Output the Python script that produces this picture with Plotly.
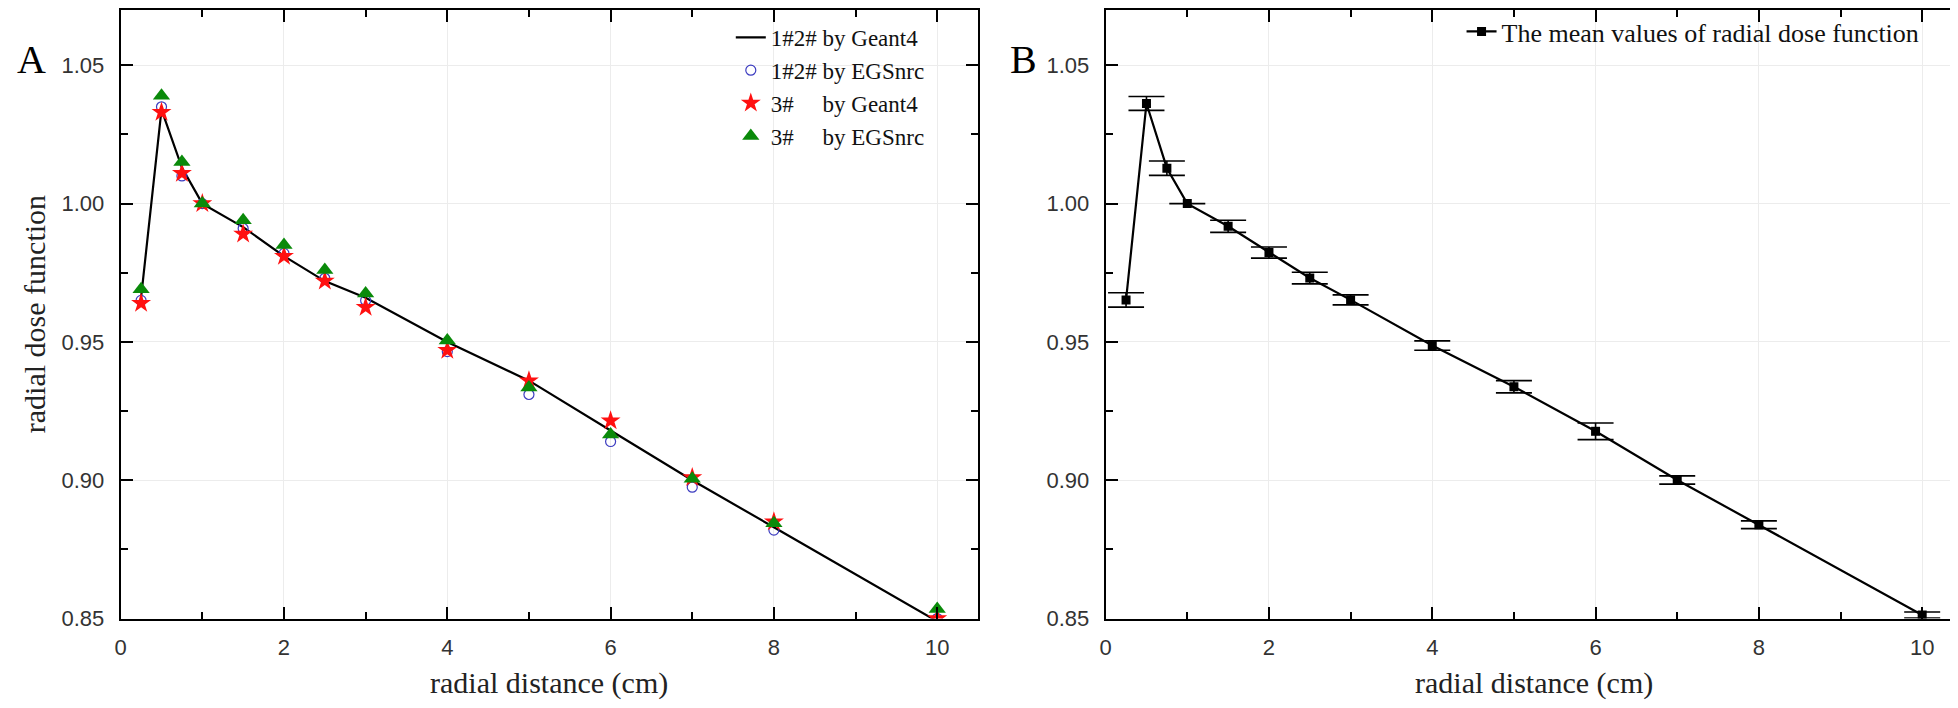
import plotly.graph_objects as go

# ---------------- data ----------------
radial_distance = [0.25, 0.5, 0.75, 1, 1.5, 2, 2.5, 3, 4, 5, 6, 7, 8, 10]

g4_1_2 = [0.966, 1.034, 1.013, 1.000, 0.9915, 0.981, 0.972, 0.966, 0.950, 0.936, 0.918, 0.900, 0.883, 0.849]
egs_1_2 = [0.965, 1.035, 1.010, 1.000, 0.991, 0.982, 0.973, 0.965, 0.9465, 0.931, 0.914, 0.8975, 0.882, 0.850]
g4_3 = [0.964, 1.033, 1.011, 1.000, 0.989, 0.981, 0.972, 0.9625, 0.947, 0.936, 0.9215, 0.901, 0.885, 0.850]
egs_3 = [0.969, 1.039, 1.015, 1.000, 0.994, 0.985, 0.976, 0.9675, 0.9505, 0.9335, 0.9165, 0.9005, 0.8845, 0.8535]

mean_values = [0.9652, 1.0362, 1.0128, 1.000, 0.9918, 0.9823, 0.9731, 0.9652, 0.9487, 0.9338, 0.9177, 0.9001, 0.8839, 0.8513]
mean_errors = [0.0026, 0.0025, 0.0026, 0.0, 0.0022, 0.0020, 0.0021, 0.0018, 0.0017, 0.0022, 0.0030, 0.0015, 0.0014, 0.0011]

x_ticks = [0, 2, 4, 6, 8, 10]
y_ticks = [0.85, 0.90, 0.95, 1.00, 1.05]

legend_names_a = ["1#2# by Geant4", "1#2# by EGSnrc",
                  "3#\u00a0\u00a0\u00a0\u00a0\u00a0by Geant4", "3#\u00a0\u00a0\u00a0\u00a0\u00a0by EGSnrc"]
legend_name_b = "The mean values of radial dose function"
x_title = "radial distance (cm)"
y_title = "radial dose function"

# ---------------- figure ----------------
W, H = 1958, 708
SERIF = "Liberation Serif, Times New Roman, serif"
SANS = "Liberation Sans, Arial, sans-serif"

fig = go.Figure()

fig.add_trace(go.Scatter(x=radial_distance, y=g4_1_2, mode="lines", name=legend_names_a[0],
                         line=dict(color="black", width=2.2), xaxis="x", yaxis="y", legend="legend"))
fig.add_trace(go.Scatter(x=radial_distance, y=egs_1_2, mode="markers", name=legend_names_a[1],
                         marker=dict(symbol="circle-open", size=10, color="#3c3cc0", line=dict(width=1.2)),
                         xaxis="x", yaxis="y", legend="legend"))
fig.add_trace(go.Scatter(x=radial_distance, y=g4_3, mode="markers", name=legend_names_a[2],
                         marker=dict(symbol="star", size=15, color="#ff1010", line=dict(width=0)),
                         xaxis="x", yaxis="y", legend="legend"))
fig.add_trace(go.Scatter(x=radial_distance, y=egs_3, mode="markers", name=legend_names_a[3],
                         marker=dict(symbol="triangle-up", size=15, color="#0a8a0a", line=dict(width=0)),
                         xaxis="x", yaxis="y", legend="legend"))

fig.add_trace(go.Scatter(x=radial_distance, y=mean_values, mode="lines+markers", name=legend_name_b,
                         line=dict(color="black", width=2.2),
                         marker=dict(symbol="square", size=9, color="black"),
                         error_y=dict(type="data", array=mean_errors, visible=True,
                                      color="black", thickness=1.6, width=18),
                         xaxis="x2", yaxis="y2", legend="legend2"))

y_bottom = 1 - 622 / H
y_top = 1 - 2 / H
dom_a = [107 / W, 967 / W]
dom_b = [1095 / W, 1955 / W]


def xaxis(domain, anchor):
    return dict(domain=domain, anchor=anchor, range=[0, 10.5], tickvals=x_ticks,
                ticks="inside", ticklen=12, tickwidth=2, tickcolor="black",
                minor=dict(dtick=1, ticks="inside", ticklen=7, tickwidth=2, tickcolor="black", showgrid=False),
                showline=True, linewidth=2, linecolor="black", mirror="ticks",
                showgrid=True, gridcolor="#ececec", gridwidth=1, zeroline=False,
                tickfont=dict(family=SANS, size=22, color="#333333"), ticklabelstandoff=8)


def yaxis(anchor):
    return dict(domain=[y_bottom, y_top], anchor=anchor, range=[0.85, 1.07], tickvals=y_ticks,
                tickformat=".2f",
                ticks="inside", ticklen=12, tickwidth=2, tickcolor="black",
                minor=dict(dtick=0.025, ticks="inside", ticklen=7, tickwidth=2, tickcolor="black", showgrid=False),
                showline=True, linewidth=2, linecolor="black", mirror="ticks",
                showgrid=True, gridcolor="#ececec", gridwidth=1, zeroline=False,
                tickfont=dict(family=SANS, size=22, color="#333333"), ticklabelstandoff=10)


annotations = [
    dict(text=x_title, x=(dom_a[0] + dom_a[1]) / 2, y=1 - 688 / H, xref="paper", yref="paper",
         showarrow=False, font=dict(family=SERIF, size=30, color="#222222"), xanchor="center", yanchor="middle"),
    dict(text=x_title, x=(dom_b[0] + dom_b[1]) / 2, y=1 - 688 / H, xref="paper", yref="paper",
         showarrow=False, font=dict(family=SERIF, size=30, color="#222222"), xanchor="center", yanchor="middle"),
    dict(text=y_title, x=20 / W, y=(y_bottom + y_top) / 2, xref="paper", yref="paper", textangle=-90,
         showarrow=False, font=dict(family=SERIF, size=30, color="#222222"), xanchor="center", yanchor="middle"),
    dict(text="A", x=18 / W, y=1 - 52 / H, xref="paper", yref="paper",
         showarrow=False, font=dict(family=SERIF, size=40, color="black"), xanchor="center", yanchor="middle"),
    dict(text="B", x=1013 / W, y=1 - 52 / H, xref="paper", yref="paper",
         showarrow=False, font=dict(family=SERIF, size=40, color="black"), xanchor="center", yanchor="middle"),
]

fig.update_layout(
    width=W, height=H,
    margin=dict(l=0, r=0, t=0, b=0),
    paper_bgcolor="white", plot_bgcolor="white",
    xaxis=xaxis(dom_a, "y"), yaxis=yaxis("x"),
    xaxis2=xaxis(dom_b, "y2"), yaxis2=yaxis("x2"),
    annotations=annotations,
    legend=dict(x=719 / W, y=1 - 8 / H, xanchor="left", yanchor="top",
                font=dict(family=SERIF, size=23, color="#111111"),
                bgcolor="rgba(0,0,0,0)", borderwidth=0, tracegroupgap=0, itemwidth=30),
    legend2=dict(x=1452 / W, y=1.0, xanchor="left", yanchor="top",
                 font=dict(family=SERIF, size=26, color="#111111"),
                 bgcolor="rgba(0,0,0,0)", borderwidth=0, itemwidth=30),
    showlegend=True,
)

fig.write_html("out.html")
